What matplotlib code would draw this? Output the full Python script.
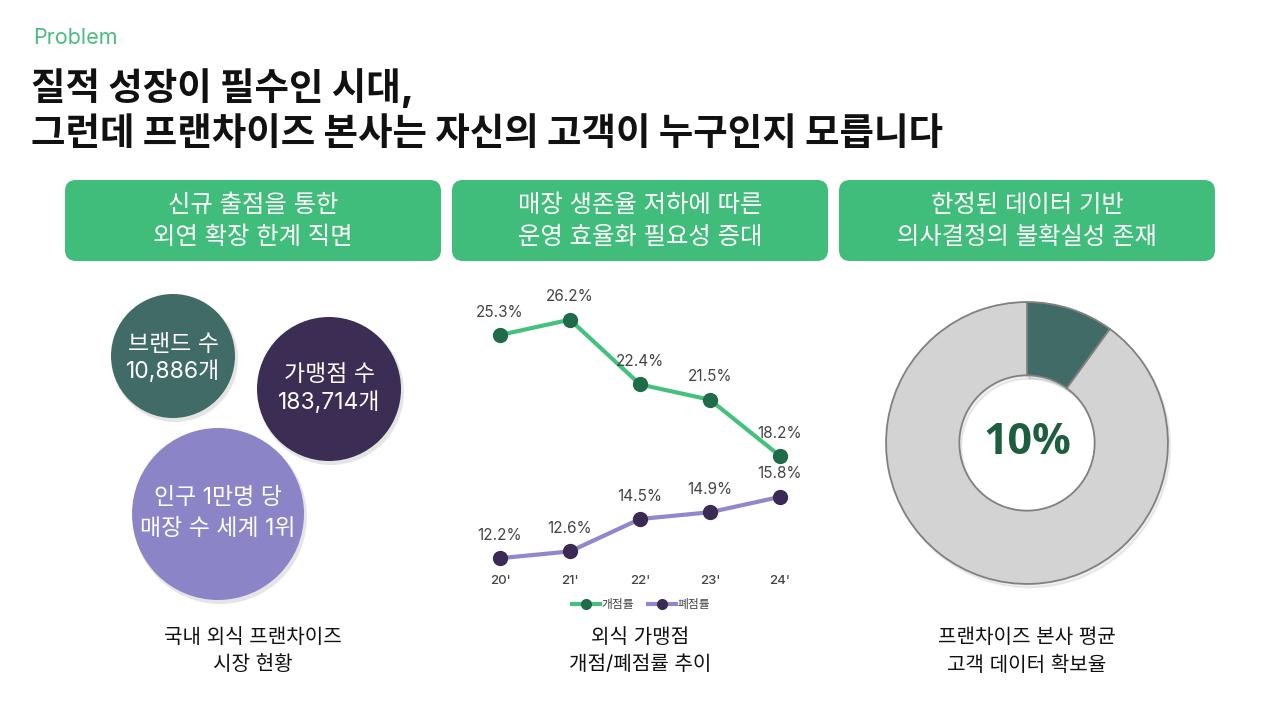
import matplotlib
matplotlib.use("Agg")
import matplotlib.pyplot as plt
from matplotlib.patches import FancyBboxPatch, Circle

plt.rcParams['font.family'] = ['Inter', 'Noto Sans CJK KR', 'DejaVu Sans']

# --- data ---
header_texts = ["신규 출점을 통한\n외연 확장 한계 직면",
                "매장 생존율 저하에 따른\n운영 효율화 필요성 증대",
                "한정된 데이터 기반\n의사결정의 불확실성 존재"]
captions = ["국내 외식 프랜차이즈\n시장 현황",
            "외식 가맹점\n개점/폐점률 추이",
            "프랜차이즈 본사 평균\n고객 데이터 확보율"]
bubble_texts = ["브랜드 수\n10,886개", "가맹점 수\n183,714개", "인구 1만명 당\n매장 수 세계 1위"]

years = ["20'", "21'", "22'", "23'", "24'"]
open_rate = [25.3, 26.2, 22.4, 21.5, 18.2]
close_rate = [12.2, 12.6, 14.5, 14.9, 15.8]

data_share = [10, 90]

GREEN = '#41bd7b'
TEAL = '#416b67'
PURPLE = '#3b2d54'
LAVENDER = '#8b85c8'

fig = plt.figure(figsize=(12.8, 7.2), dpi=100)
bg = fig.add_axes([0, 0, 1, 1])
bg.set_xlim(0, 1280)
bg.set_ylim(720, 0)
bg.axis('off')

# titles
bg.text(33, 38, "Problem", color='#4cbb7f', fontsize=15.5, va='center', ha='left')
bg.text(31, 88, "질적 성장이 필수인 시대,", fontsize=27, fontweight='heavy', color='#111111', va='center')
bg.text(31, 135, "그런데 프랜차이즈 본사는 자신의 고객이 누구인지 모릅니다", fontsize=27,
        fontweight='heavy', color='#111111', va='center')

# header boxes
box_x = [65, 452, 839]
box_w = 376
for bx, txt in zip(box_x, header_texts):
    bg.add_patch(FancyBboxPatch((bx, 180), box_w, 81, boxstyle="round,pad=0,rounding_size=11",
                                facecolor=GREEN, edgecolor='none'))
    l1, l2 = txt.split("\n")
    cx = bx + box_w / 2
    bg.text(cx, 206, l1, color='white', fontsize=17.5, ha='center', va='center')
    bg.text(cx, 238, l2, color='white', fontsize=17.5, ha='center', va='center')

# captions
cap_x = [253, 640, 1027]
for cx, txt in zip(cap_x, captions):
    l1, l2 = txt.split("\n")
    bg.text(cx, 638, l1, color='#111111', fontsize=14.5, ha='center', va='center')
    bg.text(cx, 665, l2, color='#111111', fontsize=14.5, ha='center', va='center')

# bubbles
bubbles = [((173, 356), 62, TEAL, (345, 372)),
           ((329, 389), 72, PURPLE, (375, 403)),
           ((218, 514), 86, LAVENDER, (498, 529))]
for (cx, cy), r, col, ys in bubbles:
    bg.add_patch(Circle((cx + 2, cy + 3), r + 1, facecolor='#000000', alpha=0.10, edgecolor='none'))
for ((cx, cy), r, col, ys), txt in zip(bubbles, bubble_texts):
    bg.add_patch(Circle((cx, cy), r, facecolor=col, edgecolor='none'))
    l1, l2 = txt.split("\n")
    bg.text(cx, ys[0], l1, color='white', fontsize=16.5, ha='center', va='center')
    bg.text(cx, ys[1], l2, color='white', fontsize=16.5, ha='center', va='center')

# line chart
px_per = 17.04
y_lo, y_hi = 11.6, 28.0
top_px = 335 - (y_hi - 25.3) * px_per
bot_px = 335 + (25.3 - y_lo) * px_per
ax = fig.add_axes([465 / 1280, (720 - bot_px) / 720, 350 / 1280, (bot_px - top_px) / 720])
ax.patch.set_alpha(0)
x = list(range(len(years)))
ax.plot(x, open_rate, color='#45c17f', lw=3, marker='o', ms=10, mfc='#1f6b4a', mec='#1f6b4a',
        label='개점률', clip_on=False, zorder=3)
ax.plot(x, close_rate, color='#9286cc', lw=3, marker='o', ms=10, mfc='#3b2a55', mec='#3b2a55',
        label='폐점률', clip_on=False, zorder=3)
for xi, v in zip(x, open_rate):
    ax.annotate(f"{v}%", (xi, v), xytext=(0, 16.5), textcoords='offset points',
                ha='center', va='center', fontsize=11, color='#444444')
for xi, v in zip(x, close_rate):
    ax.annotate(f"{v}%", (xi, v), xytext=(0, 16.5), textcoords='offset points',
                ha='center', va='center', fontsize=11, color='#444444')
ax.set_xlim(-0.5, 4.5)
ax.set_ylim(y_lo, y_hi)
ax.set_xticks(x)
ax.set_xticklabels(years, fontsize=9.5, color='#444444', fontweight='medium')
ax.tick_params(axis='x', length=0, pad=5)
ax.set_yticks([])
for s in ax.spines.values():
    s.set_visible(False)
fig.legend(loc='center', bbox_to_anchor=(641 / 1280, 1 - 605 / 720), ncol=2, frameon=False,
           fontsize=8.5, handlelength=2.4, handletextpad=0.1, columnspacing=1.2, markerscale=0.7,
           labelcolor='#444444')

# donut
R = 148
dax = fig.add_axes([(1027 - R) / 1280, (720 - 443 - R) / 720, 2 * R / 1280, 2 * R / 720])
dax.pie(data_share, startangle=90, counterclock=False, colors=[TEAL, '#d3d3d3'],
        wedgeprops=dict(width=0.52, edgecolor='#808080', linewidth=1.3),
        shadow=dict(ox=0.012, oy=-0.018, shade=0.3, alpha=0.15))
dax.set_xlim(-1.05, 1.05)
dax.set_ylim(-1.05, 1.05)
dax.text(0, 0, f"{data_share[0]}%", ha='center', va='center', fontsize=31, fontweight='bold',
         color='#1e5e3e', family=['Open Sans', 'DejaVu Sans'])

fig.savefig("out.png", dpi=100)
